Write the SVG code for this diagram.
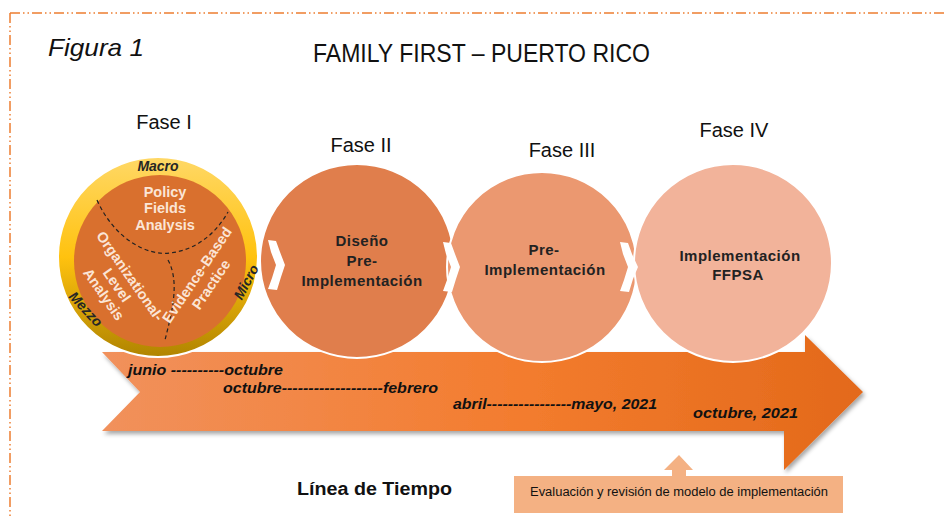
<svg xmlns="http://www.w3.org/2000/svg" width="944" height="518" viewBox="0 0 944 518">
<style>
.lbl{font-family:"Liberation Sans",Arial,sans-serif;fill:#111}
.phase{font-family:"Liberation Sans",Arial,sans-serif;font-size:20px;fill:#111;text-anchor:middle}
.ctext{font-family:"Liberation Sans",Arial,sans-serif;font-size:15px;font-weight:bold;fill:#222;text-anchor:middle;letter-spacing:0.5px}
.wtext{font-family:"Liberation Sans",Arial,sans-serif;font-size:14.5px;font-weight:bold;fill:#FBE5D6;text-anchor:middle}
.ring{font-family:"Liberation Sans",Arial,sans-serif;font-size:14px;font-weight:bold;font-style:italic;fill:#262626;text-anchor:middle}
.time{font-family:"Liberation Sans",Arial,sans-serif;font-size:14px;font-weight:bold;font-style:italic;fill:#111}
.circ{stroke:#fff;stroke-width:2}
.dash{fill:none;stroke:#222;stroke-width:1.2;stroke-dasharray:4 3}
.chev{fill:#fff}
</style>
<defs>
<linearGradient id="gArrow" x1="0" y1="0" x2="1" y2="0">
<stop offset="0" stop-color="#F1915C"/>
<stop offset="0.55" stop-color="#F37C2E"/>
<stop offset="1" stop-color="#E3691A"/>
</linearGradient>
<linearGradient id="gRing" x1="0" y1="0" x2="0" y2="1">
<stop offset="0" stop-color="#FFD866"/>
<stop offset="0.5" stop-color="#FFC20F"/>
<stop offset="1" stop-color="#B08400"/>
</linearGradient>
<filter id="shadow" x="-5%" y="-10%" width="110%" height="130%">
<feDropShadow dx="2" dy="3" stdDeviation="2" flood-color="#000" flood-opacity="0.35"/>
</filter>
</defs>

<rect width="944" height="518" fill="#fff"/>

<g id="border" fill="none" stroke="#ED7D31" stroke-width="1.5" stroke-dasharray="10 3 1.5 3 1.5 3">
<line x1="10" y1="13" x2="944" y2="13"/>
<line x1="10" y1="13" x2="10" y2="518"/>
</g>

<g id="title">
<text class="lbl" x="48" y="56" font-size="24" font-style="italic" textLength="96" lengthAdjust="spacingAndGlyphs">Figura 1</text>
<text class="lbl" x="313" y="62" font-size="25" textLength="337" lengthAdjust="spacingAndGlyphs">FAMILY FIRST – PUERTO RICO</text>
</g>

<g id="timeline-arrow">
<path d="M102,352 L805,352 L805,335 L863,392 L784,470 L784,431 L102,431 L140,392 Z" fill="url(#gArrow)" filter="url(#shadow)"/>
<text class="time" x="128" y="375" textLength="155" lengthAdjust="spacingAndGlyphs">junio ----------octubre</text>
<text class="time" x="223" y="393" textLength="215" lengthAdjust="spacingAndGlyphs">octubre-------------------febrero</text>
<text class="time" x="453" y="409" textLength="204" lengthAdjust="spacingAndGlyphs">abril----------------mayo, 2021</text>
<text class="time" x="693" y="418" textLength="105" lengthAdjust="spacingAndGlyphs">octubre, 2021</text>
</g>

<g id="fase1">
<text class="phase" x="164" y="129">Fase I</text>
<circle cx="158" cy="257" r="100" fill="url(#gRing)" class="circ" stroke-width="1"/>
<circle cx="160" cy="261" r="86" fill="#D9702E"/>
<path class="dash" d="M97,200 C115,240 148,256 170,253 C195,250 215,235 228,212"/>
<path class="dash" d="M168,260 C180,282 172,312 165,340"/>
<text class="wtext" x="165" y="197">Policy</text>
<text class="wtext" x="165" y="213">Fields</text>
<text class="wtext" x="165" y="230">Analysis</text>
<g transform="translate(130,276) rotate(55)">
<text class="wtext" x="0" y="5">Organizational-</text>
<text class="wtext" x="0" y="21">Level</text>
<text class="wtext" x="0" y="37">Analysis</text>
</g>
<g transform="translate(197,275) rotate(-56)">
<text class="wtext" x="0" y="5">Evidence-Based</text>
<text class="wtext" x="0" y="22">Practice</text>
</g>
<text class="ring" x="158" y="171">Macro</text>
<text class="ring" transform="translate(246,282) rotate(-62)" x="0" y="5">Micro</text>
<text class="ring" transform="translate(86,309) rotate(47)" x="0" y="5">Mezzo</text>
</g>

<g id="fase2">
<text class="phase" x="361" y="152">Fase II</text>
<circle cx="357" cy="261" r="97" fill="#E07E4C" class="circ"/>
<text class="ctext" x="362" y="246">Diseño</text>
<text class="ctext" x="362" y="266">Pre-</text>
<text class="ctext" x="362" y="286">Implementación</text>
</g>

<g id="fase3">
<text class="phase" x="562" y="157">Fase III</text>
<circle cx="542" cy="267" r="95" fill="#EB9870" class="circ"/>
<text class="ctext" x="544" y="255">Pre-</text>
<text class="ctext" x="545" y="275">Implementación</text>
</g>

<g id="fase4">
<text class="phase" x="734" y="137">Fase IV</text>
<circle cx="733" cy="263" r="99" fill="#F2B39A" class="circ"/>
<text class="ctext" x="740" y="261">Implementación</text>
<text class="ctext" x="738" y="280">FFPSA</text>
</g>

<g id="connectors">
<path class="chev" d="M268,240 L276,241 L280,252 L285,265 L281,277 L277,290 L268,289 L272,278 L276,265 L271,252 Z"/>
<path class="chev" d="M443,242 L451,243 L455,254 L460,267 L456,279 L452,292 L443,291 L447,280 L451,267 L446,254 Z"/>
<path class="chev" d="M620,242 L628,243 L632,254 L638,267 L633,279 L629,292 L620,291 L624,280 L628,267 L623,254 Z"/>
<path d="M679,455 L693,470 L686,470 L686,476 L672,476 L672,470 L664,470 Z" fill="#F4B183"/>
</g>

<g id="evaluacion">
<rect x="514" y="476" width="329" height="37" fill="#F4B183"/>
<text class="lbl" x="530" y="496" font-size="12.5" fill="#333" textLength="298" lengthAdjust="spacingAndGlyphs">Evaluación y revisión de modelo de implementación</text>
</g>

<g id="linea">
<text class="lbl" x="297" y="495" font-size="18" font-weight="bold" textLength="155" lengthAdjust="spacingAndGlyphs">Línea de Tiempo</text>
</g>
</svg>
